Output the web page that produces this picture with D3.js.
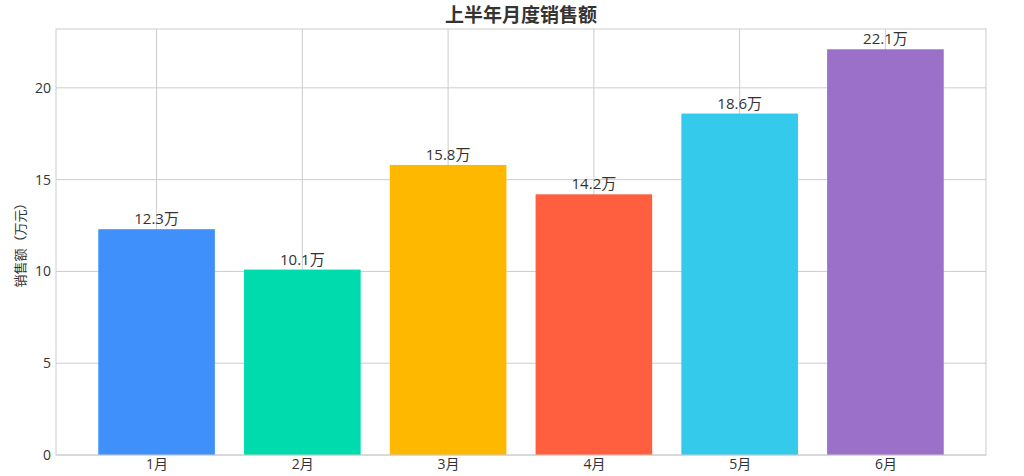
<!DOCTYPE html>
<html>
<head>
<meta charset="utf-8">
<script src="https://cdn.jsdelivr.net/npm/d3@7"></script>
<style>
  body { margin: 0; background: #fff; }
  text { font-family: "Open Sans", "Noto Sans CJK SC", sans-serif; fill: #333; }
</style>
</head>
<body>
<div id="chart"></div>
<script>
"use strict";

var months = ["1月", "2月", "3月", "4月", "5月", "6月"];
var sales = [12.3, 10.1, 15.8, 14.2, 18.6, 22.1];
var colors = ["#3f90fa", "#00dbae", "#ffb800", "#ff5f3f", "#33caec", "#9a70c8"];
var yTicks = [0, 5, 10, 15, 20];

var width = 1024, height = 476;
var margin = { top: 29, right: 38, bottom: 21, left: 56 };
var innerW = width - margin.left - margin.right;
var innerH = height - margin.top - margin.bottom;

var svg = d3.select("#chart").append("svg")
	.attr("width", width)
	.attr("height", height);

// matplotlib style margins: bars span [-0.4, 5.4], pad 5%
var lo = -0.4, hi = months.length - 1 + 0.4;
var pad = (hi - lo) * 0.05;
var x = d3.scaleLinear().domain([lo - pad, hi + pad]).range([0, innerW]);
var y = d3.scaleLinear().domain([0, d3.max(sales) * 1.05]).range([innerH, 0]);

var g = svg.append("g")
	.attr("transform", "translate(" + margin.left + "," + margin.top + ")");

// grid
g.append("g").selectAll("line.h").data(yTicks).enter().append("line")
	.attr("x1", 0).attr("x2", innerW)
	.attr("y1", function(d) { return y(d); })
	.attr("y2", function(d) { return y(d); })
	.attr("stroke", "#cccccc").attr("stroke-width", 1);
g.append("g").selectAll("line.v").data(months).enter().append("line")
	.attr("x1", function(d, i) { return x(i); })
	.attr("x2", function(d, i) { return x(i); })
	.attr("y1", 0).attr("y2", innerH)
	.attr("stroke", "#cccccc").attr("stroke-width", 1);

// bars
g.selectAll("rect.bar").data(sales).enter().append("rect")
	.attr("class", "bar")
	.attr("x", function(d, i) { return x(i - 0.4); })
	.attr("width", x(0.4) - x(-0.4))
	.attr("y", function(d) { return y(d); })
	.attr("height", function(d) { return innerH - y(d); })
	.attr("fill", function(d, i) { return colors[i]; });

// value labels
g.selectAll("text.val").data(sales).enter().append("text")
	.attr("x", function(d, i) { return x(i); })
	.attr("y", function(d) { return y(d) - 5; })
	.attr("text-anchor", "middle")
	.style("font-size", "15px")
	.text(function(d) { return d.toFixed(1) + "万"; });

// frame
g.append("rect")
	.attr("width", innerW).attr("height", innerH)
	.attr("fill", "none").attr("stroke", "#cccccc").attr("stroke-width", 1);

// axes
var yAxis = g.append("g").call(d3.axisLeft(y).tickValues(yTicks).tickSize(0).tickPadding(5));
yAxis.select(".domain").remove();
yAxis.selectAll("text").style("font-size", "14px").attr("fill", "#333");

var xAxis = g.append("g")
	.attr("transform", "translate(0," + innerH + ")")
	.call(d3.axisBottom(x).tickValues(d3.range(months.length)).tickSize(0).tickPadding(4)
		.tickFormat(function(d) { return months[d]; }));
xAxis.select(".domain").remove();
xAxis.selectAll("text").style("font-size", "14px").attr("fill", "#333");

// titles
svg.append("text")
	.attr("x", margin.left + innerW / 2)
	.attr("y", 22)
	.attr("text-anchor", "middle")
	.style("font-size", "19px")
	.style("font-weight", "bold")
	.text("上半年月度销售额");

svg.append("text")
	.attr("transform", "translate(25," + (margin.top + innerH / 2) + ") rotate(-90)")
	.attr("text-anchor", "middle")
	.style("font-size", "13px")
	.text("销售额（万元）");
</script>
</body>
</html>
